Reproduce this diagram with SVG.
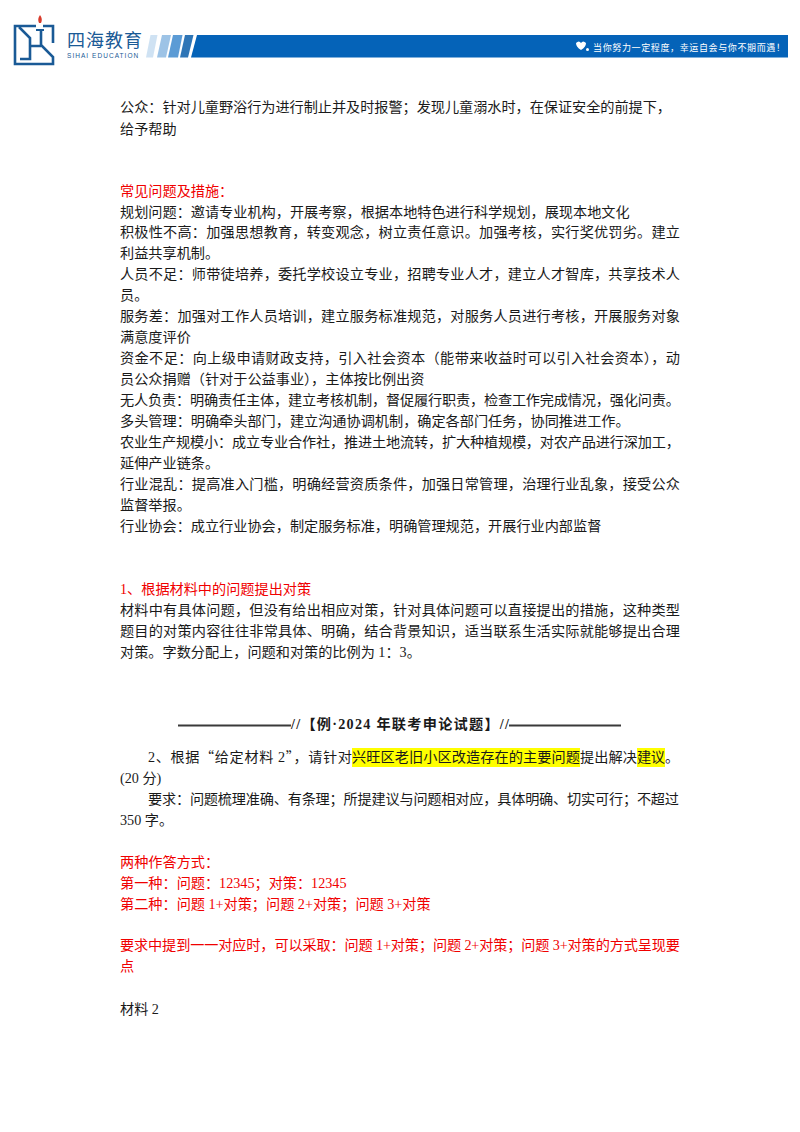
<svg xmlns="http://www.w3.org/2000/svg" width="800" height="1132" viewBox="0 0 800 1132">
<style>
text{font-family:"Liberation Serif","Noto Sans CJK SC",serif;font-size:14.16px;fill:#1a1a1a}
.q{font-family:"Noto Sans CJK SC",serif}
.r{fill:#f00000}
.b{font-weight:700}
.logo{fill:none;stroke:#1a5a96;stroke-width:2.6}
.hl{fill:#ffff00}
.rule{stroke:#3a3a3a;stroke-width:2}
</style>
<rect width="800" height="1132" fill="#fff"/>
<g id="header">
<path class="logo" d="M36 26H15V64H53V57L41 45V30M43 26H53V43"/>
<path class="logo" d="M19 27L30 38V59H20M30 46H41"/>
<path d="M39 23Q37 19 40 15Q43 19 41 23Z" fill="#d83a2a"/>
<rect x="36" y="29" width="8" height="2" fill="#1a5a96"/>
<text x="67" y="47" style="font-family:'Noto Sans CJK SC',sans-serif;font-size:18px;letter-spacing:1px;fill:#1a5a96">四海教育</text>
<text x="67" y="58" style="font-family:'Liberation Sans',sans-serif;font-size:6.5px;letter-spacing:1.05px;fill:#1a5a96">SIHAI EDUCATION</text>
<polygon points="146,57.5 153,57.5 157.5,35 150.5,35" fill="#cfe2f3"/>
<polygon points="157,57.5 166,57.5 171,35 162,35" fill="#9dc3e6"/>
<polygon points="168,57.5 178,57.5 182.5,35 173,35" fill="#5b9bd5"/>
<polygon points="180,57.5 188,57.5 193.5,35 185,35" fill="#2e75b6"/>
<polygon points="191,57.5 788,57.5 788,35 197,35" fill="#0563b8"/>
<path d="M576 43Q579 40 581 43Q583 40 586 43Q586 47 581 50Q576 47 576 43ZM586 49.5a1.5 1.5 0 1 0 3 0a1.5 1.5 0 1 0 -3 0Z" fill="#fff"/>
<text x="593" y="51" textLength="192" lengthAdjust="spacing" style="font-family:'Noto Sans CJK SC',sans-serif;font-size:9px;fill:#fff">当你努力一定程度，幸运自会与你不期而遇！</text>
</g>
<g id="highlights">
<rect class="hl" x="352" y="748" width="228" height="19"/>
<rect class="hl" x="637" y="748" width="28" height="19"/>
</g>
<g id="rules">
<line class="rule" x1="178" y1="725.5" x2="291" y2="725.5"/>
<line class="rule" x1="509" y1="725.5" x2="621" y2="725.5"/>
</g>
<g id="body">
<text x="120" y="112" textLength="551">公众：针对儿童野浴行为进行制止并及时报警；发现儿童溺水时，在保证安全的前提下，</text>
<text x="120" y="134">给予帮助</text>
<text class="r" x="120" y="196">常见问题及措施：</text>
<text x="120" y="217">规划问题：邀请专业机构，开展考察，根据本地特色进行科学规划，展现本地文化</text>
<text x="120" y="237" textLength="560">积极性不高：加强思想教育，转变观念，树立责任意识。加强考核，实行奖优罚劣。建立</text>
<text x="120" y="258">利益共享机制。</text>
<text x="120" y="279" textLength="560">人员不足：师带徒培养，委托学校设立专业，招聘专业人才，建立人才智库，共享技术人</text>
<text x="120" y="300">员。</text>
<text x="120" y="321" textLength="560">服务差：加强对工作人员培训，建立服务标准规范，对服务人员进行考核，开展服务对象</text>
<text x="120" y="342">满意度评价</text>
<text x="120" y="363" textLength="560">资金不足：向上级申请财政支持，引入社会资本（能带来收益时可以引入社会资本），动</text>
<text x="120" y="384">员公众捐赠（针对于公益事业），主体按比例出资</text>
<text x="120" y="405" textLength="560">无人负责：明确责任主体，建立考核机制，督促履行职责，检查工作完成情况，强化问责。</text>
<text x="120" y="426">多头管理：明确牵头部门，建立沟通协调机制，确定各部门任务，协同推进工作。</text>
<text x="120" y="447" textLength="560">农业生产规模小：成立专业合作社，推进土地流转，扩大种植规模，对农产品进行深加工，</text>
<text x="120" y="468">延伸产业链条。</text>
<text x="120" y="489" textLength="560">行业混乱：提高准入门槛，明确经营资质条件，加强日常管理，治理行业乱象，接受公众</text>
<text x="120" y="510">监督举报。</text>
<text x="120" y="531">行业协会：成立行业协会，制定服务标准，明确管理规范，开展行业内部监督</text>
<text class="r" x="120" y="594">1、根据材料中的问题提出对策</text>
<text x="120" y="615" textLength="560">材料中有具体问题，但没有给出相应对策，针对具体问题可以直接提出的措施，这种类型</text>
<text x="120" y="636" textLength="560">题目的对策内容往往非常具体、明确，结合背景知识，适当联系生活实际就能够提出合理</text>
<text x="120" y="657">对策。字数分配上，问题和对策的比例为 1：3。</text>
<text class="b" x="291" y="729" textLength="218">//【例·2024 年联考申论试题】//</text>
<text x="148" y="762" textLength="204">2、根据<tspan class="q">“</tspan>给定材料 2<tspan class="q">”</tspan>，请针对</text>
<text x="352" y="762" textLength="228">兴旺区老旧小区改造存在的主要问题</text>
<text x="580" y="762" textLength="57">提出解决</text>
<text x="637" y="762" textLength="28">建议</text>
<text x="665" y="762">。</text>
<text x="120" y="783">(20 分)</text>
<text x="148" y="804" textLength="531">要求：问题梳理准确、有条理；所提建议与问题相对应，具体明确、切实可行；不超过</text>
<text x="120" y="825">350 字。</text>
<text class="r" x="120" y="867">两种作答方式：</text>
<text class="r" x="120" y="888">第一种：问题：12345；对策：12345</text>
<text class="r" x="120" y="909">第二种：问题 1+对策；问题 2+对策；问题 3+对策</text>
<text class="r" x="120" y="950" textLength="560">要求中提到一一对应时，可以采取：问题 1+对策；问题 2+对策；问题 3+对策的方式呈现要</text>
<text class="r" x="120" y="971">点</text>
<text x="120" y="1014">材料 2</text>
</g>
</svg>
